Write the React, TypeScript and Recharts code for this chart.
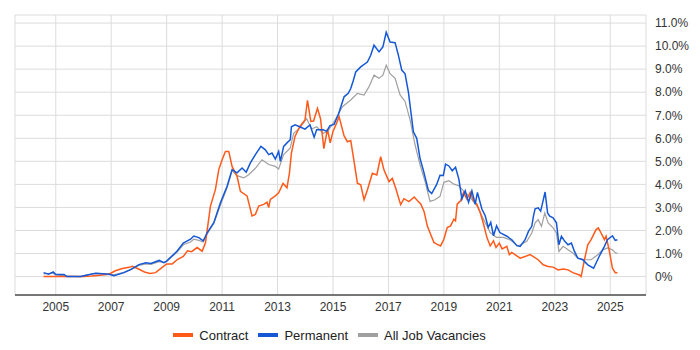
import React from "react"
import { LineChart, Line, XAxis, YAxis, CartesianGrid, Legend } from "recharts"

// [year, % of vacancies]
const contract: [number, number][] = [
  [2004.56, 0], [2005.0, 0], [2005.5, 0], [2006.0, 0], [2006.3, 0.02], [2006.5, 0.05],
  [2006.92, 0.1], [2007.15, 0.25], [2007.4, 0.35], [2007.64, 0.4], [2007.76, 0.45],
  [2007.95, 0.35], [2008.2, 0.2], [2008.4, 0.13], [2008.6, 0.17], [2008.84, 0.4],
  [2009.0, 0.55], [2009.2, 0.55], [2009.4, 0.75], [2009.6, 0.87], [2009.75, 1.12],
  [2009.9, 1.08], [2010.1, 1.26], [2010.28, 1.1], [2010.4, 1.47], [2010.58, 3.06],
  [2010.76, 3.78], [2010.88, 4.64], [2011.0, 5.07], [2011.12, 5.43], [2011.24, 5.43],
  [2011.36, 4.78], [2011.54, 4.35], [2011.66, 3.7], [2011.9, 3.5], [2012.08, 2.63],
  [2012.2, 2.7], [2012.32, 3.06], [2012.5, 3.13], [2012.62, 3.23], [2012.68, 2.99],
  [2012.74, 3.35], [2012.92, 3.5], [2013.04, 3.63], [2013.2, 4.04], [2013.34, 3.85],
  [2013.43, 4.5], [2013.5, 5.36], [2013.63, 6.08], [2013.8, 6.5], [2013.99, 6.8],
  [2014.08, 7.65], [2014.2, 6.73], [2014.3, 6.75], [2014.44, 7.3], [2014.55, 6.85],
  [2014.67, 5.55], [2014.8, 6.4], [2014.9, 5.8], [2015.0, 6.3], [2015.1, 6.57],
  [2015.22, 6.94], [2015.4, 6.1], [2015.52, 5.85], [2015.64, 5.9], [2015.76, 5.0],
  [2015.88, 4.05], [2016.0, 3.98], [2016.12, 3.33], [2016.24, 3.76], [2016.42, 4.48],
  [2016.58, 4.41], [2016.72, 5.2], [2016.84, 4.62], [2017.02, 4.12], [2017.14, 4.26],
  [2017.26, 3.84], [2017.44, 3.12], [2017.56, 3.38], [2017.74, 3.25], [2017.93, 3.45],
  [2018.05, 3.29], [2018.17, 3.14], [2018.29, 2.8], [2018.4, 2.2], [2018.52, 1.84],
  [2018.64, 1.48], [2018.76, 1.4], [2018.88, 1.33], [2019.0, 1.62], [2019.12, 2.13],
  [2019.24, 2.2], [2019.36, 2.49], [2019.42, 2.42], [2019.48, 3.14], [2019.6, 3.29],
  [2019.71, 3.65], [2019.83, 3.36], [2019.95, 3.65], [2020.07, 3.29], [2020.19, 3.14],
  [2020.31, 2.78], [2020.43, 2.28], [2020.55, 1.7], [2020.67, 1.33], [2020.79, 1.55],
  [2020.88, 1.26], [2021.0, 1.45], [2021.1, 1.2], [2021.27, 1.31], [2021.36, 0.95],
  [2021.45, 1.05], [2021.63, 0.9], [2021.75, 0.8], [2021.93, 0.87], [2022.11, 0.95],
  [2022.23, 0.87], [2022.4, 0.73], [2022.58, 0.51], [2022.76, 0.44], [2022.94, 0.41],
  [2023.12, 0.29], [2023.3, 0.33], [2023.48, 0.29], [2023.65, 0.17], [2023.89, 0.07],
  [2023.95, 0.0], [2024.07, 0.73], [2024.19, 1.38], [2024.31, 1.6], [2024.49, 2.04],
  [2024.57, 2.11], [2024.67, 1.89], [2024.79, 1.6], [2024.85, 1.75], [2024.96, 1.16],
  [2025.08, 0.36], [2025.18, 0.17], [2025.26, 0.17],
]

const permanent: [number, number][] = [
  [2004.56, 0.17], [2004.75, 0.1], [2004.91, 0.2], [2005.0, 0.09], [2005.3, 0.09],
  [2005.4, 0.0], [2005.9, 0.0], [2006.14, 0.07], [2006.44, 0.14], [2006.92, 0.1],
  [2007.1, 0.04], [2007.46, 0.17], [2007.7, 0.3], [2008.0, 0.52], [2008.25, 0.6],
  [2008.43, 0.57], [2008.73, 0.7], [2008.9, 0.6], [2009.0, 0.67], [2009.37, 1.1],
  [2009.6, 1.45], [2009.86, 1.62], [2009.98, 1.76], [2010.16, 1.69], [2010.32, 1.55],
  [2010.46, 1.9], [2010.7, 2.34], [2010.94, 3.2], [2011.18, 3.92], [2011.36, 4.64],
  [2011.54, 4.5], [2011.72, 4.71], [2011.87, 4.53], [2012.02, 4.93], [2012.2, 5.29],
  [2012.4, 5.65], [2012.56, 5.5], [2012.68, 5.29], [2012.8, 5.36], [2012.92, 5.1],
  [2013.04, 5.43], [2013.1, 5.0], [2013.22, 5.65], [2013.34, 5.8], [2013.46, 5.94],
  [2013.5, 6.5], [2013.63, 6.58], [2013.8, 6.5], [2013.99, 6.4], [2014.17, 6.58],
  [2014.32, 6.05], [2014.41, 6.37], [2014.65, 6.37], [2014.77, 6.3], [2014.89, 6.55],
  [2015.04, 6.6], [2015.2, 7.05], [2015.4, 7.8], [2015.55, 7.95], [2015.64, 8.16],
  [2015.73, 8.5], [2015.82, 8.88], [2016.0, 9.1], [2016.24, 9.31], [2016.36, 9.6],
  [2016.48, 10.04], [2016.66, 9.75], [2016.8, 9.97], [2016.92, 10.6], [2017.06, 10.18],
  [2017.24, 10.15], [2017.36, 9.6], [2017.48, 8.96], [2017.6, 8.8], [2017.72, 8.0],
  [2017.9, 6.28], [2018.02, 6.0], [2018.14, 5.12], [2018.26, 4.61], [2018.44, 3.74],
  [2018.56, 3.6], [2018.74, 4.0], [2018.86, 4.4], [2018.98, 4.39], [2019.06, 4.88],
  [2019.18, 4.8], [2019.3, 4.59], [2019.42, 4.74], [2019.54, 4.23], [2019.65, 3.36],
  [2019.77, 3.72], [2019.89, 3.22], [2020.01, 3.72], [2020.13, 3.14], [2020.21, 3.65],
  [2020.37, 2.93], [2020.49, 2.64], [2020.6, 2.13], [2020.69, 2.35], [2020.79, 1.77],
  [2020.9, 2.2], [2021.02, 1.91], [2021.27, 1.75], [2021.45, 1.6], [2021.63, 1.34],
  [2021.75, 1.31], [2021.93, 1.6], [2022.05, 1.96], [2022.17, 2.18], [2022.23, 2.62],
  [2022.29, 2.94], [2022.4, 2.98], [2022.49, 2.84], [2022.56, 3.2], [2022.65, 3.67],
  [2022.74, 2.76], [2022.82, 2.62], [2022.94, 2.55], [2023.06, 2.33], [2023.15, 1.38],
  [2023.24, 1.75], [2023.36, 1.53], [2023.48, 1.38], [2023.6, 1.45], [2023.71, 1.09],
  [2023.83, 0.8], [2024.01, 0.73], [2024.19, 0.51], [2024.4, 0.36], [2024.6, 0.87],
  [2024.79, 1.31], [2024.9, 1.6], [2025.08, 1.77], [2025.18, 1.57], [2025.26, 1.6],
]

const allJobs: [number, number][] = [
  [2004.56, 0.12], [2004.9, 0.15], [2005.0, 0.08], [2005.4, 0.02], [2005.9, 0.0],
  [2006.14, 0.08], [2006.44, 0.14], [2006.92, 0.12], [2007.1, 0.08], [2007.46, 0.18],
  [2007.7, 0.3], [2008.0, 0.48], [2008.25, 0.55], [2008.43, 0.53], [2008.73, 0.65],
  [2008.9, 0.6], [2009.0, 0.66], [2009.37, 1.05], [2009.6, 1.38], [2009.86, 1.5],
  [2009.98, 1.62], [2010.16, 1.57], [2010.32, 1.5], [2010.46, 1.85], [2010.7, 2.3],
  [2010.94, 3.1], [2011.18, 3.85], [2011.36, 4.6], [2011.54, 4.38], [2011.78, 4.28],
  [2011.96, 4.42], [2012.2, 4.7], [2012.44, 5.07], [2012.68, 4.86], [2012.92, 4.78],
  [2013.04, 4.67], [2013.22, 5.29], [2013.46, 5.58], [2013.58, 6.22], [2013.8, 6.44],
  [2014.05, 6.85], [2014.23, 6.4], [2014.41, 6.5], [2014.65, 6.22], [2014.8, 6.28],
  [2015.04, 6.72], [2015.34, 7.37], [2015.64, 7.66], [2015.88, 7.95], [2016.12, 7.88],
  [2016.3, 8.24], [2016.48, 8.74], [2016.66, 8.6], [2016.8, 8.74], [2016.92, 9.17],
  [2017.06, 8.8], [2017.24, 8.6], [2017.42, 7.88], [2017.6, 7.6], [2017.78, 6.8],
  [2017.96, 5.72], [2018.14, 4.85], [2018.32, 4.13], [2018.5, 3.26], [2018.68, 3.33],
  [2018.86, 3.48], [2019.0, 4.09], [2019.18, 4.16], [2019.36, 4.01], [2019.54, 3.94],
  [2019.71, 3.72], [2019.95, 3.43], [2020.19, 3.07], [2020.43, 2.49], [2020.67, 1.91],
  [2020.9, 1.7], [2021.14, 1.7], [2021.38, 1.6], [2021.68, 1.33], [2021.99, 1.53],
  [2022.17, 1.89], [2022.29, 2.33], [2022.4, 2.47], [2022.52, 2.18], [2022.64, 2.76],
  [2022.76, 2.33], [2022.94, 2.11], [2023.06, 1.89], [2023.15, 1.09], [2023.3, 1.31],
  [2023.48, 1.16], [2023.65, 1.02], [2023.83, 0.8], [2024.07, 0.73], [2024.31, 0.73],
  [2024.55, 0.95], [2024.73, 1.16], [2024.9, 1.24], [2025.08, 1.16], [2025.2, 1.02],
  [2025.26, 1.02],
]

const yearTicks = [2005, 2007, 2009, 2011, 2013, 2015, 2017, 2019, 2021, 2023, 2025]
const rateTicks = [0, 1, 2, 3, 4, 5, 6, 7, 8, 9, 10, 11]

const series = [
  { name: "Contract", color: "#ff5a1a", points: contract, width: 1.5 },
  { name: "Permanent", color: "#1558d6", points: permanent, width: 1.5 },
  { name: "All Job Vacancies", color: "#a0a0a0", points: allJobs, width: 1.2 },
]

const toRows = (pts: [number, number][]) => pts.map(([year, rate]) => ({ year, rate }))

const font = "'Liberation Sans', Arial, sans-serif"

function LegendRow() {
  return (
    <div
      style={{
        display: "flex",
        justifyContent: "center",
        alignItems: "center",
        height: 30,
        paddingRight: 52,
        fontFamily: font,
        fontSize: 13,
        color: "#222",
      }}
    >
      {series.map((s) => (
        <div key={s.name} style={{ display: "flex", alignItems: "center", margin: "0 5px" }}>
          <span style={{ width: 20, height: 4, background: s.color, marginRight: 6 }} />
          {s.name}
        </div>
      ))}
    </div>
  )
}

export default function App() {
  // draw gray first so the coloured lines sit on top
  const drawOrder = [series[2], series[0], series[1]]
  return (
    <div style={{ position: "absolute", left: 0, top: 0, background: "#fff" }}>
      <LineChart width={700} height={350} margin={{ top: 15, right: 4, left: 15, bottom: 0 }}>
        <CartesianGrid stroke="#dcdcdc" />
        <XAxis
          dataKey="year"
          type="number"
          domain={[2003.53, 2026.29]}
          ticks={yearTicks}
          allowDataOverflow
          height={25}
          tickLine={false}
          tickMargin={1}
          axisLine={{ stroke: "#000" }}
          tick={{ fontSize: 12, fill: "#333", fontFamily: font }}
        />
        <YAxis
          orientation="right"
          type="number"
          domain={[-0.8, 11.35]}
          ticks={rateTicks}
          allowDataOverflow
          width={50}
          tickLine={false}
          axisLine={false}
          tickMargin={3}
          tickFormatter={(v: number) => (v === 0 ? "0%" : `${v.toFixed(1)}%`)}
          tick={{ fontSize: 12, fill: "#333", fontFamily: font, textAnchor: "start" }}
        />
        <Legend verticalAlign="bottom" content={<LegendRow />} wrapperStyle={{ height: 30 }} />
        {drawOrder.map((s) => (
          <Line
            key={s.name}
            data={toRows(s.points)}
            dataKey="rate"
            name={s.name}
            type="linear"
            stroke={s.color}
            strokeWidth={s.width}
            dot={false}
            isAnimationActive={false}
          />
        ))}
      </LineChart>
    </div>
  )
}
